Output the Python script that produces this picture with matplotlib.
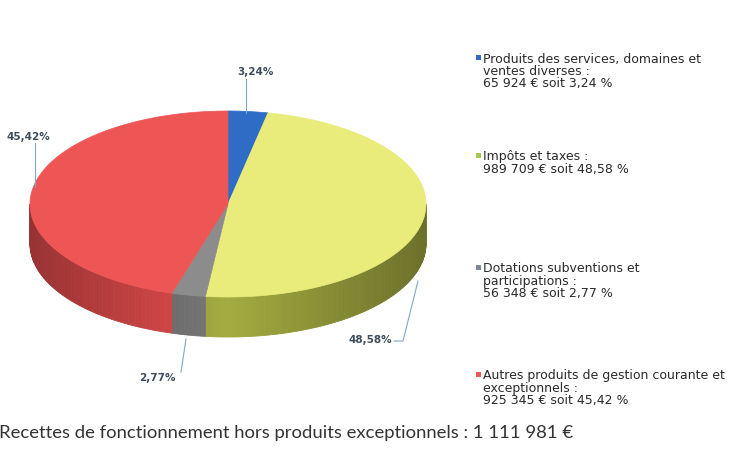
import numpy as np
import matplotlib.pyplot as plt
from matplotlib.patches import Polygon
from matplotlib.colors import to_rgb

# data
categories = ["Produits des services, domaines et\nventes diverses :",
              "Impôts et taxes :",
              "Dotations subventions et\nparticipations :",
              "Autres produits de gestion courante et\nexceptionnels :"]
amounts = [65924, 989709, 56348, 925345]
amount_labels = ["65 924 €", "989 709 €", "56 348 €", "925 345 €"]
pct_labels = ["3,24%", "48,58%", "2,77%", "45,42%"]
legend_pct = ["3,24 %", "48,58 %", "2,77 %", "45,42 %"]
caption = "Recettes de fonctionnement hors produits exceptionnels : 1 111 981 €"

top_colors = ["#2f6cc6", "#e9ec7a", "#8c8c8c", "#ee5656"]
side_colors = ["#2a5aa0", "#959c3a", "#6e6e6e", "#d24646"]
marker_colors = ["#2f6cc6", "#a8c84a", "#7a8a9a", "#e85a5a"]

fig = plt.figure(figsize=(7.41, 4.52), dpi=100)
ax = fig.add_axes([0, 0, 1, 1])
ax.set_xlim(0, 741)
ax.set_ylim(452, 0)
ax.axis('off')

# 3d-ish pie, drawn in pixel space
cx, cy, rx, ry, depth = 228, 205, 198, 93, 40

def pt(th):
    return cx + rx*np.cos(th), cy - ry*np.sin(th)

fr = np.array(amounts) / sum(amounts)
bounds = np.pi/2 - 2*np.pi*np.concatenate([[0], np.cumsum(fr)])

# side walls (front half only)
for i in range(len(amounts)):
    a0, a1 = bounds[i], bounds[i+1]
    segs = []
    for off in (0, 2*np.pi):
        lo, hi = max(a1 + off, -np.pi), min(a0 + off, 0)
        if lo < hi:
            segs.append((lo, hi))
    base = np.array(to_rgb(side_colors[i]))
    for lo, hi in segs:
        n = max(int((hi - lo) / 0.02), 2)
        ths = np.linspace(lo, hi, n + 1)
        for t0, t1 in zip(ths[:-1], ths[1:]):
            tm = (t0 + t1) / 2
            f = 1.1 - 0.38*abs(np.cos(tm))
            c = np.clip(base*f, 0, 1)
            x0, y0 = pt(t0)
            x1, y1 = pt(t1)
            ax.add_patch(Polygon([(x0, y0), (x1, y1), (x1, y1 + depth), (x0, y0 + depth)],
                                 closed=True, fc=c, ec=c, lw=0.6, zorder=1))

# top faces
for i in range(len(amounts)):
    ths = np.linspace(bounds[i], bounds[i+1], 200)
    xs, ys = pt(ths)
    verts = [(cx, cy)] + list(zip(xs, ys))
    ax.add_patch(Polygon(verts, closed=True, fc=top_colors[i], ec=top_colors[i],
                         lw=0.5, zorder=2))

# data labels + leader lines
lab_kw = dict(fontsize=7.5, fontweight='bold', color='#3d4d5e', family='DejaVu Sans')
line_kw = dict(color='#7fa8c8', lw=0.8, zorder=3)
ax.text(256, 72, pct_labels[0], ha='center', va='center', **lab_kw)
ax.plot([246, 246], [80, 114], **line_kw)
ax.text(370, 340, pct_labels[1], ha='center', va='center', **lab_kw)
ax.plot([394, 403, 418], [342, 342, 282], **line_kw)
ax.text(157, 378, pct_labels[2], ha='center', va='center', **lab_kw)
ax.plot([181, 186], [373, 340], **line_kw)
ax.text(28, 137, pct_labels[3], ha='center', va='center', **lab_kw)
ax.plot([35, 35], [144, 188], **line_kw)

# legend
leg_y = [59, 157, 269, 376]
for i in range(len(amounts)):
    ax.add_patch(plt.Rectangle((476, leg_y[i] - 3), 5, 5, fc=marker_colors[i], ec='none'))
    txt = categories[i] + "\n" + amount_labels[i] + " soit " + legend_pct[i]
    ax.text(483, leg_y[i] - 6.5, txt, ha='left', va='top', fontsize=9,
            color='#2a2a2a', family='DejaVu Sans', linespacing=0.95)

ax.text(-1, 433, caption, ha='left', va='center', fontsize=13.3, color='#333333',
        family='Lato')

fig.savefig('out.png', dpi=100)
